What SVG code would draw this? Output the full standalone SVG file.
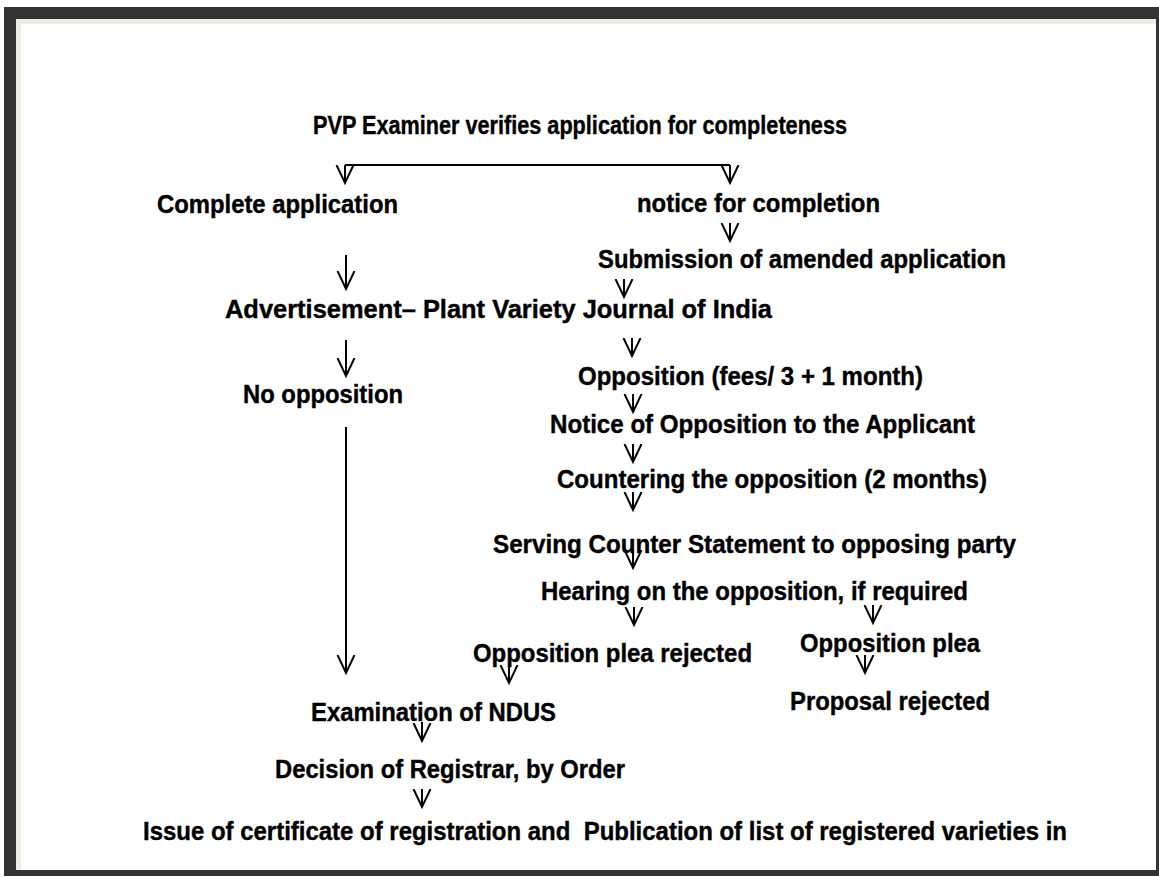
<svg xmlns="http://www.w3.org/2000/svg" width="1159" height="877" viewBox="0 0 1159 877">
<style>
text{font-family:"Liberation Sans",Arial,sans-serif;font-weight:bold;font-size:26px;fill:#000;stroke:#000;stroke-width:0.4}
.c{fill:none;stroke:#000;stroke-width:2}
.a{marker-end:url(#v)}
</style>
<defs>
<marker id="v" markerUnits="userSpaceOnUse" markerWidth="24" markerHeight="24" refX="18" refY="10" orient="auto">
<path d="M0,1.5 L18,10 L0,18.5" fill="none" stroke="#000" stroke-width="2"/>
</marker>
</defs>
<rect x="0" y="0" width="1159" height="877" fill="#fff"/>
<rect x="4" y="7" width="1155" height="869" fill="#333"/>
<rect x="16" y="19" width="1140" height="851" fill="#fff"/>
<rect x="16" y="19" width="1140" height="5" fill="#f0eee4"/>
<rect x="16" y="19" width="5" height="851" fill="#f0eee4"/>
<g id="connectors">
<path class="c" d="M345,165 H730"/>
<path class="c a" d="M345,165 V183"/>
<path class="c a" d="M730,165 V183"/>
<path class="c a" d="M730,223 V241"/>
<path class="c a" d="M346,255 V289"/>
<path class="c a" d="M624,279 V297"/>
<path class="c a" d="M346,340 V376"/>
<path class="c a" d="M632,338 V356"/>
<path class="c a" d="M633,394 V412"/>
<path class="c a" d="M633,444 V462"/>
<path class="c a" d="M633,492 V510"/>
<path class="c a" d="M633,550 V568"/>
<path class="c a" d="M634,607 V625"/>
<path class="c a" d="M873,605 V623"/>
<path class="c a" d="M346,427 V673"/>
<path class="c a" d="M509,664 V683"/>
<path class="c a" d="M865,655 V673"/>
<path class="c a" d="M422,722 V741"/>
<path class="c a" d="M422,789 V807"/>
</g>
<g id="n1"><text x="313" y="134" textLength="534" lengthAdjust="spacingAndGlyphs">PVP Examiner verifies application for completeness</text></g>
<g id="n2"><text x="157" y="213" textLength="241" lengthAdjust="spacingAndGlyphs">Complete application</text></g>
<g id="n3"><text x="637" y="212" textLength="243" lengthAdjust="spacingAndGlyphs">notice for completion</text></g>
<g id="n4"><text x="598" y="268" textLength="408" lengthAdjust="spacingAndGlyphs">Submission of amended application</text></g>
<g id="n5"><text x="225" y="318" textLength="547" lengthAdjust="spacingAndGlyphs">Advertisement– Plant Variety Journal of India</text></g>
<g id="n6"><text x="243" y="403" textLength="160" lengthAdjust="spacingAndGlyphs">No opposition</text></g>
<g id="n7"><text x="578" y="385" textLength="345" lengthAdjust="spacingAndGlyphs">Opposition (fees/ 3 + 1 month)</text></g>
<g id="n8"><text x="550" y="433" textLength="425" lengthAdjust="spacingAndGlyphs">Notice of Opposition to the Applicant</text></g>
<g id="n9"><text x="557" y="488" textLength="430" lengthAdjust="spacingAndGlyphs">Countering the opposition (2 months)</text></g>
<g id="n10"><text x="493" y="553" textLength="523" lengthAdjust="spacingAndGlyphs">Serving Counter Statement to opposing party</text></g>
<g id="n11"><text x="541" y="600" textLength="427" lengthAdjust="spacingAndGlyphs">Hearing on the opposition, if required</text></g>
<g id="n12"><text x="473" y="662" textLength="279" lengthAdjust="spacingAndGlyphs">Opposition plea rejected</text></g>
<g id="n13"><text x="800" y="652" textLength="180" lengthAdjust="spacingAndGlyphs">Opposition plea</text></g>
<g id="n14"><text x="790" y="710" textLength="200" lengthAdjust="spacingAndGlyphs">Proposal rejected</text></g>
<g id="n15"><text x="311" y="721" textLength="245" lengthAdjust="spacingAndGlyphs">Examination of NDUS</text></g>
<g id="n16"><text x="275" y="778" textLength="350" lengthAdjust="spacingAndGlyphs">Decision of Registrar, by Order</text></g>
<g id="n17"><text x="143" y="840" textLength="924" lengthAdjust="spacingAndGlyphs" xml:space="preserve">Issue of certificate of registration and  Publication of list of registered varieties in</text></g>
</svg>
